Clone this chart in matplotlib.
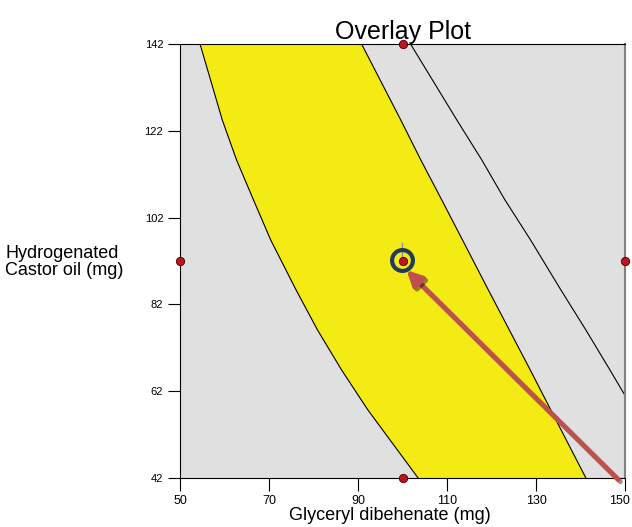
import matplotlib
matplotlib.use("Agg")
import matplotlib.pyplot as plt
import matplotlib.patheffects as pe
from matplotlib.transforms import ScaledTranslation

plt.rcParams['font.family'] = ['Liberation Sans', 'DejaVu Sans']

# boundaries (y -> x)
y_pts = [142, 124.5, 115.3, 106.1, 96.8, 85.3, 76.1, 66.9, 57.7, 42]
left_x = [54.5, 59.5, 62.7, 66.5, 70.4, 76.1, 80.9, 86.3, 92.2, 103.5]
right_x = [90.8, 99.6, 104.1, 108.8, 113.5, 119.3, 124.0, 128.7, 133.3, 141.2]

# third contour line
line_y = [142, 124.5, 115.3, 106.1, 96.8, 85.3, 76.1, 66.9, 61.0]
line_x = [101.8, 112.2, 117.8, 123.0, 128.8, 135.6, 141.2, 146.6, 150.0]

# design points
pts_x = [100, 50, 100, 150, 100]
pts_y = [142, 92, 92, 92, 42]

flag_x, flag_y = 99.8, 92.2
arrow_start = (148.5, 41.6)
arrow_end = (100.9, 89.9)

xticks = [50, 70, 90, 110, 130, 150]
yticks = [42, 62, 82, 102, 122, 142]

fig = plt.figure(figsize=(6.32, 5.27), dpi=100)
ax = fig.add_axes([0.2848, 0.093, 0.7042, 0.8235])
ax.set_facecolor('#e0e0e0')

ax.fill_betweenx(y_pts, left_x, right_x, color='#f5eb14', lw=0)
ax.plot(left_x, y_pts, color='black', lw=0.8)
ax.plot(right_x, y_pts, color='black', lw=0.8)
ax.plot(line_x, line_y, color='black', lw=0.8)

# flag
ax.plot([flag_x, flag_x], [flag_y, flag_y + 4], color='#909090', lw=1, zorder=4)
ax.plot(flag_x, flag_y, 'o', ms=15, mfc='none', mec='#1f3b5c', mew=3, zorder=5)

ax.plot(pts_x, pts_y, 'o', ms=6, mfc='#c0121c', mec='#400000', mew=0.6,
        clip_on=False, zorder=6)

ax.annotate('', xy=arrow_end, xytext=arrow_start,
            arrowprops=dict(arrowstyle='-|>,head_length=0.9,head_width=0.45',
                            color='#c0504d', lw=3.5, shrinkA=0, shrinkB=0,
                            path_effects=[pe.SimpleLineShadow(offset=(1.5, -1.5), alpha=0.4),
                                          pe.Normal()]),
            annotation_clip=False, zorder=7)

ax.set_xlim(50, 150)
ax.set_ylim(42, 142)
ax.set_xticks(xticks)
ax.set_yticks(yticks)
ax.tick_params(axis='x', length=9, width=0.8, labelsize=9, pad=3)
ax.tick_params(axis='y', length=9, width=0.8, labelsize=8, pad=3)
for s in ['left', 'bottom', 'top']:
    ax.spines[s].set_color('black')
    ax.spines[s].set_linewidth(0.8)
ax.spines['right'].set_color('#808080')
ax.spines['right'].set_linewidth(1.5)

# nudge the last x label so it stays inside the figure
last = ax.get_xticklabels()[-1]
last.set_transform(last.get_transform() + ScaledTranslation(-4 / 72, 0, fig.dpi_scale_trans))

ax.set_title('Overlay Plot', fontsize=18, pad=0)
ax.set_xlabel('Glyceryl dibehenate (mg)', fontsize=13)
ax.xaxis.set_label_coords(0.472, -0.066)
fig.text(0.008, 0.503, 'Hydrogenated\nCastor oil (mg)', fontsize=13,
         ha='left', va='center', multialignment='left', linespacing=1.05)

fig.savefig('out.png', dpi=100)
